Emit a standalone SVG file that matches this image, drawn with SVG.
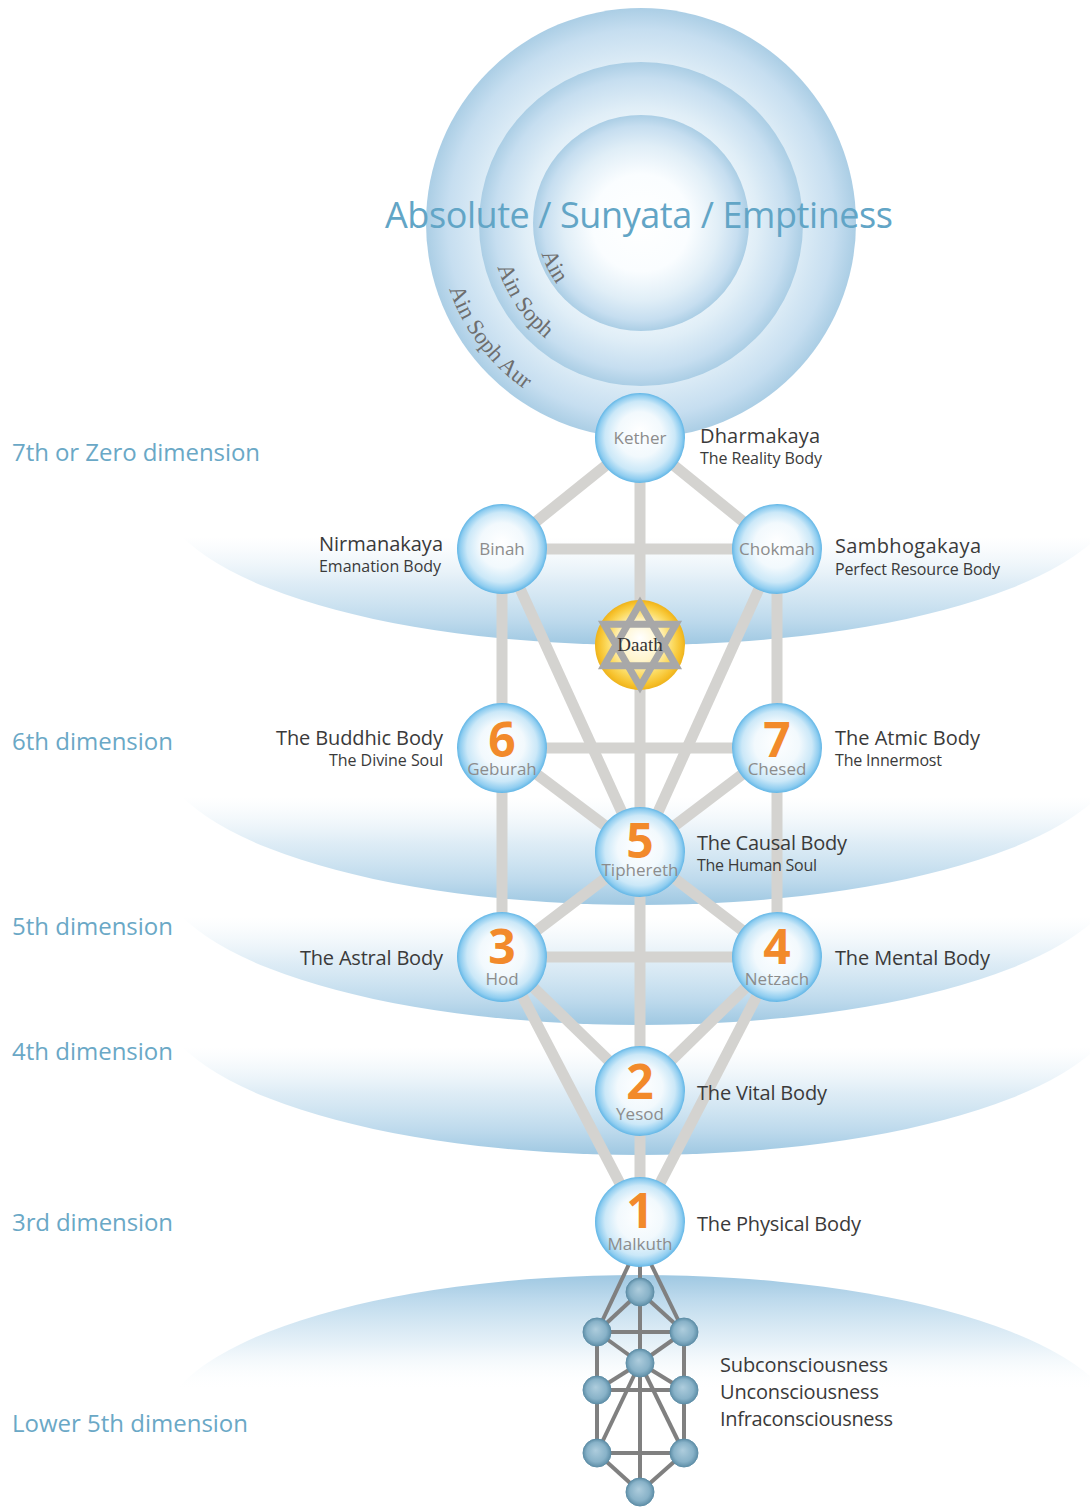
<svg xmlns="http://www.w3.org/2000/svg" width="1090" height="1507" viewBox="0 0 1090 1507">
<defs>
<style>
.dim{font-family:"Open Sans","Noto Sans",sans-serif;font-size:24px;fill:#6aa8c6}
.big{font-family:"Open Sans","Noto Sans",sans-serif;font-size:20px;fill:#3a3a3a}
.sub{font-family:"Open Sans","Noto Sans",sans-serif;font-size:16px;fill:#3a3a3a}
.nm{font-family:"Open Sans","Noto Sans",sans-serif;font-size:17px;fill:#8c8c8c;text-anchor:middle}
.num{font-family:"Open Sans","Noto Sans",sans-serif;font-size:48px;font-weight:bold;fill:#f28a2b;text-anchor:middle}
.arc{font-family:"Liberation Serif","Times New Roman",serif;font-size:23px;fill:#6e6e6e}
.path{stroke:#d4d3d0;stroke-width:11;stroke-linecap:butt;fill:none}
.mini{stroke:#808080;stroke-width:4;fill:none}
.sph{fill:url(#sph)}
.mn{fill:url(#mini);stroke:#5f8fa8;stroke-width:1}
</style>
<radialGradient id="void" cx="0.5" cy="0.5" r="0.5">
<stop offset="0" stop-color="#ffffff"/>
<stop offset="0.45" stop-color="#fafdff"/>
<stop offset="0.72" stop-color="#e0eef7"/>
<stop offset="0.9" stop-color="#c6def0"/>
<stop offset="1" stop-color="#abcee5"/>
</radialGradient>
<radialGradient id="sph" cx="0.5" cy="0.5" r="0.5" fx="0.5" fy="0.42">
<stop offset="0" stop-color="#ffffff"/>
<stop offset="0.5" stop-color="#f2f9fd"/>
<stop offset="0.78" stop-color="#cbe8f8"/>
<stop offset="0.93" stop-color="#8fcdf0"/>
<stop offset="1" stop-color="#62b6e6"/>
</radialGradient>
<radialGradient id="gold" cx="0.5" cy="0.5" r="0.5" fx="0.5" fy="0.42">
<stop offset="0" stop-color="#ffffff"/>
<stop offset="0.45" stop-color="#fff5cc"/>
<stop offset="0.75" stop-color="#fbd85a"/>
<stop offset="0.92" stop-color="#f6c02a"/>
<stop offset="1" stop-color="#eeb31c"/>
</radialGradient>
<radialGradient id="mini" cx="0.5" cy="0.5" r="0.5" fx="0.45" fy="0.4">
<stop offset="0" stop-color="#aecddd"/>
<stop offset="0.7" stop-color="#88b2c8"/>
<stop offset="1" stop-color="#5f8fa8"/>
</radialGradient>
<linearGradient id="bandDown" x1="0" y1="0" x2="0" y2="1">
<stop offset="0" stop-color="#ffffff" stop-opacity="0"/>
<stop offset="0.3" stop-color="#eaf3f9" stop-opacity="0"/>
<stop offset="0.6" stop-color="#d8e9f4" stop-opacity="0.85"/>
<stop offset="0.85" stop-color="#bcd9ec"/>
<stop offset="1" stop-color="#9fc8e2"/>
</linearGradient>
<linearGradient id="bandUp" x1="0" y1="0" x2="0" y2="1">
<stop offset="0" stop-color="#9fc8e2"/>
<stop offset="0.15" stop-color="#bcd9ec"/>
<stop offset="0.45" stop-color="#e2eff7" stop-opacity="0.85"/>
<stop offset="0.75" stop-color="#ffffff" stop-opacity="0"/>
</linearGradient>
<path id="arcAin" d="M 541.5 253.4 A 104 104 0 0 0 659.1 325.4"/>
<path id="arcSoph" d="M 497.6 266.9 A 150 150 0 0 0 667 370.7"/>
<path id="arcAur" d="M 449.1 289.1 A 203 203 0 0 0 676.2 422.9"/>
</defs>
<rect width="1090" height="1507" fill="#ffffff"/>

<g id="bands">
<path d="M 160 490 A 480 155 0 0 0 1120 490 Z" fill="url(#bandDown)"/>
<path d="M 160 750 A 480 155 0 0 0 1120 750 Z" fill="url(#bandDown)"/>
<path d="M 160 870 A 480 155 0 0 0 1120 870 Z" fill="url(#bandDown)"/>
<path d="M 160 1000 A 480 155 0 0 0 1120 1000 Z" fill="url(#bandDown)"/>
<path d="M 160 1430 A 480 155 0 0 1 1120 1430 Z" fill="url(#bandUp)"/>
</g>

<g id="absolute">
<circle cx="641" cy="223" r="215" fill="url(#void)"/>
<circle cx="641" cy="224" r="162" fill="url(#void)"/>
<circle cx="641" cy="223" r="108" fill="url(#void)"/>
<text x="639" y="228" text-anchor="middle" textLength="508" font-family="'Open Sans','Noto Sans',sans-serif" font-size="36" fill="#62a5c6">Absolute / Sunyata / Emptiness</text>
<text class="arc"><textPath href="#arcAin">Ain</textPath></text>
<text class="arc"><textPath href="#arcSoph">Ain Soph</textPath></text>
<text class="arc"><textPath href="#arcAur">Ain Soph Aur</textPath></text>
</g>

<g id="dimensions">
<text class="dim" x="12" y="461" textLength="248">7th or Zero dimension</text>
<text class="dim" x="12" y="750" textLength="161">6th dimension</text>
<text class="dim" x="12" y="935" textLength="161">5th dimension</text>
<text class="dim" x="12" y="1060" textLength="161">4th dimension</text>
<text class="dim" x="12" y="1231" textLength="161">3rd dimension</text>
<text class="dim" x="12" y="1432" textLength="236">Lower 5th dimension</text>
</g>

<g id="connectors">
<line class="path" x1="640" y1="438" x2="502" y2="549"/>
<line class="path" x1="640" y1="438" x2="777" y2="549"/>
<line class="path" x1="640" y1="438" x2="640" y2="1222"/>
<line class="path" x1="502" y1="549" x2="777" y2="549"/>
<line class="path" x1="502" y1="549" x2="502" y2="957"/>
<line class="path" x1="777" y1="549" x2="777" y2="957"/>
<line class="path" x1="502" y1="549" x2="640" y2="852"/>
<line class="path" x1="777" y1="549" x2="640" y2="852"/>
<line class="path" x1="502" y1="748" x2="777" y2="748"/>
<line class="path" x1="502" y1="748" x2="640" y2="852"/>
<line class="path" x1="777" y1="748" x2="640" y2="852"/>
<line class="path" x1="640" y1="852" x2="502" y2="957"/>
<line class="path" x1="640" y1="852" x2="777" y2="957"/>
<line class="path" x1="502" y1="957" x2="777" y2="957"/>
<line class="path" x1="502" y1="957" x2="640" y2="1091"/>
<line class="path" x1="777" y1="957" x2="640" y2="1091"/>
<line class="path" x1="502" y1="957" x2="640" y2="1222"/>
<line class="path" x1="777" y1="957" x2="640" y2="1222"/>
</g>

<g id="mini-connectors">
<line class="mini" x1="630" y1="1262" x2="597" y2="1332"/>
<line class="mini" x1="650" y1="1262" x2="684" y2="1332"/>
<line class="mini" x1="640" y1="1262" x2="640" y2="1492"/>
<line class="mini" x1="640" y1="1292" x2="597" y2="1332"/>
<line class="mini" x1="640" y1="1292" x2="684" y2="1332"/>
<line class="mini" x1="597" y1="1332" x2="684" y2="1332"/>
<line class="mini" x1="597" y1="1332" x2="640" y2="1363"/>
<line class="mini" x1="684" y1="1332" x2="640" y2="1363"/>
<line class="mini" x1="597" y1="1332" x2="597" y2="1453"/>
<line class="mini" x1="684" y1="1332" x2="684" y2="1453"/>
<line class="mini" x1="597" y1="1390" x2="684" y2="1390"/>
<line class="mini" x1="640" y1="1363" x2="597" y2="1390"/>
<line class="mini" x1="640" y1="1363" x2="684" y2="1390"/>
<line class="mini" x1="640" y1="1363" x2="597" y2="1453"/>
<line class="mini" x1="640" y1="1363" x2="684" y2="1453"/>
<line class="mini" x1="597" y1="1453" x2="684" y2="1453"/>
<line class="mini" x1="597" y1="1453" x2="640" y2="1492"/>
<line class="mini" x1="684" y1="1453" x2="640" y2="1492"/>
</g>

<g id="kether">
<circle class="sph" cx="640" cy="438" r="45"/>
<text class="nm" x="640" y="444">Kether</text>
<text class="big" x="700" y="443" textLength="120">Dharmakaya</text>
<text class="sub" x="700" y="464" textLength="122">The Reality Body</text>
</g>
<g id="binah">
<circle class="sph" cx="502" cy="549" r="45"/>
<text class="nm" x="502" y="555">Binah</text>
<text class="big" x="443" y="551" text-anchor="end" textLength="124">Nirmanakaya</text>
<text class="sub" x="441" y="572" text-anchor="end" textLength="122">Emanation Body</text>
</g>
<g id="chokmah">
<circle class="sph" cx="777" cy="549" r="45"/>
<text class="nm" x="777" y="555">Chokmah</text>
<text class="big" x="835" y="553" textLength="146">Sambhogakaya</text>
<text class="sub" x="835" y="575" textLength="165">Perfect Resource Body</text>
</g>
<g id="daath">
<circle cx="640" cy="645" r="45" fill="url(#gold)"/>
<polygon points="640,603.5 604,665.75 676,665.75" fill="none" stroke="#a8a8a8" stroke-width="7" stroke-linejoin="miter"/>
<polygon points="640,686.5 604,624.25 676,624.25" fill="none" stroke="#a8a8a8" stroke-width="7" stroke-linejoin="miter"/>
<text x="640" y="651" text-anchor="middle" font-family="'Liberation Serif','Times New Roman',serif" font-size="19" fill="#333333">Daath</text>
</g>
<g id="geburah">
<circle class="sph" cx="502" cy="748" r="45"/>
<text class="num" x="502" y="757">6</text>
<text class="nm" x="502" y="775">Geburah</text>
<text class="big" x="443" y="745" text-anchor="end" textLength="167">The Buddhic Body</text>
<text class="sub" x="443" y="766" text-anchor="end" textLength="114">The Divine Soul</text>
</g>
<g id="chesed">
<circle class="sph" cx="777" cy="748" r="45"/>
<text class="num" x="777" y="757">7</text>
<text class="nm" x="777" y="775">Chesed</text>
<text class="big" x="835" y="745" textLength="145">The Atmic Body</text>
<text class="sub" x="835" y="766" textLength="107">The Innermost</text>
</g>
<g id="tiphereth">
<circle class="sph" cx="640" cy="852" r="45"/>
<text class="num" x="640" y="858">5</text>
<text class="nm" x="640" y="876">Tiphereth</text>
<text class="big" x="697" y="850" textLength="150">The Causal Body</text>
<text class="sub" x="697" y="871" textLength="120">The Human Soul</text>
</g>
<g id="hod">
<circle class="sph" cx="502" cy="957" r="45"/>
<text class="num" x="502" y="964">3</text>
<text class="nm" x="502" y="985">Hod</text>
<text class="big" x="443" y="965" text-anchor="end" textLength="143">The Astral Body</text>
</g>
<g id="netzach">
<circle class="sph" cx="777" cy="957" r="45"/>
<text class="num" x="777" y="964">4</text>
<text class="nm" x="777" y="985">Netzach</text>
<text class="big" x="835" y="965" textLength="155">The Mental Body</text>
</g>
<g id="yesod">
<circle class="sph" cx="640" cy="1091" r="45"/>
<text class="num" x="640" y="1099">2</text>
<text class="nm" x="640" y="1120">Yesod</text>
<text class="big" x="697" y="1100" textLength="130">The Vital Body</text>
</g>
<g id="malkuth">
<circle class="sph" cx="640" cy="1222" r="45"/>
<text class="num" x="640" y="1228">1</text>
<text class="nm" x="640" y="1250">Malkuth</text>
<text class="big" x="697" y="1231" textLength="164">The Physical Body</text>
</g>

<g id="mini-tree">
<circle class="mn" cx="640" cy="1292" r="14"/>
<circle class="mn" cx="597" cy="1332" r="14"/>
<circle class="mn" cx="684" cy="1332" r="14"/>
<circle class="mn" cx="640" cy="1363" r="14"/>
<circle class="mn" cx="597" cy="1390" r="14"/>
<circle class="mn" cx="684" cy="1390" r="14"/>
<circle class="mn" cx="597" cy="1453" r="14"/>
<circle class="mn" cx="684" cy="1453" r="14"/>
<circle class="mn" cx="640" cy="1492" r="14"/>
</g>
<g id="consciousness">
<text class="big" x="720" y="1372" textLength="168">Subconsciousness</text>
<text class="big" x="720" y="1399" textLength="159">Unconsciousness</text>
<text class="big" x="720" y="1426" textLength="173">Infraconsciousness</text>
</g>
</svg>
